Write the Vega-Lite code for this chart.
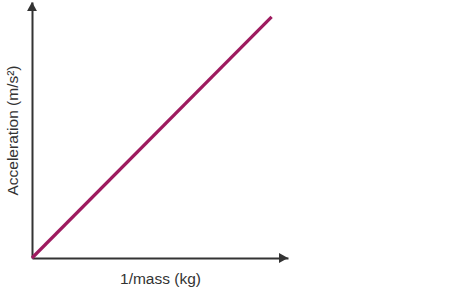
{
  "$schema": "https://vega.github.io/schema/vega-lite/v6.json",
  "width": 256,
  "height": 256,
  "autosize": "none",
  "padding": {"left": 32, "top": 2, "right": 176, "bottom": 32},
  "background": "white",
  "config": {"view": {"stroke": null}},
  "datasets": {
    "line": [{"x": 0, "y": 0}, {"x": 9.36, "y": 9.42}],
    "arrows": [{"x": 0, "y": 10, "dir": "up"}, {"x": 10, "y": 0, "dir": "right"}]
  },
  "layer": [
    {
      "data": {"name": "line"},
      "mark": {"type": "line", "color": "#9e1b5f", "strokeWidth": 3.2, "strokeCap": "butt"},
      "encoding": {
        "x": {"field": "x", "type": "quantitative", "scale": {"domain": [0, 10], "nice": false, "zero": false},
          "axis": {"title": "1/mass (kg)", "grid": false, "ticks": false, "labels": false, "domainColor": "#333333", "domainWidth": 2, "titleFont": "Liberation Sans", "titleFontWeight": "normal", "titleFontSize": 15.5, "titleColor": "#333333", "titlePadding": 13}},
        "y": {"field": "y", "type": "quantitative", "scale": {"domain": [0, 10], "nice": false, "zero": false},
          "axis": {"title": "Acceleration (m/s²)", "grid": false, "ticks": false, "labels": false, "domainColor": "#333333", "domainWidth": 2, "titleFont": "Liberation Sans", "titleFontWeight": "normal", "titleFontSize": 15.5, "titleColor": "#333333", "titlePadding": 12}}
      }
    },
    {
      "data": {"name": "arrows"},
      "transform": [{"filter": "datum.dir === 'up'"}],
      "mark": {"type": "point", "filled": true, "color": "#333333", "opacity": 1, "size": 324, "shape": "M0,0L0.55,1L-0.55,1Z"},
      "encoding": {
        "x": {"field": "x", "type": "quantitative"},
        "y": {"field": "y", "type": "quantitative"}
      }
    },
    {
      "data": {"name": "arrows"},
      "transform": [{"filter": "datum.dir === 'right'"}],
      "mark": {"type": "point", "filled": true, "color": "#333333", "opacity": 1, "size": 324, "shape": "M0,0L-1,-0.55L-1,0.55Z"},
      "encoding": {
        "x": {"field": "x", "type": "quantitative"},
        "y": {"field": "y", "type": "quantitative"}
      }
    }
  ]
}
